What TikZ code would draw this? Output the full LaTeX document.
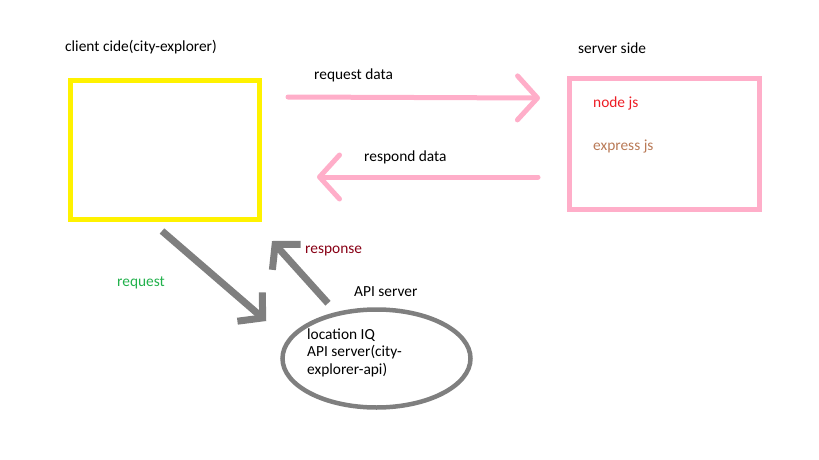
\documentclass[tikz,border=0pt]{standalone}
\usepackage{fontspec}
\setmainfont{Carlito}
\usepackage{xcolor}
\usepackage{tikz}
\usetikzlibrary{positioning,arrows.meta,shapes.geometric}

\definecolor{paintyellow}{RGB}{255,242,0}
\definecolor{paintpink}{RGB}{255,174,201}
\definecolor{paintgray}{RGB}{127,127,127}
\definecolor{paintgreen}{RGB}{34,177,76}
\definecolor{paintred}{RGB}{237,28,36}
\definecolor{paintbrown}{RGB}{185,122,87}
\definecolor{paintmaroon}{RGB}{136,0,21}

\begin{document}
\begin{tikzpicture}[
      x=1pt, y=-1pt,
      font=\fontsize{15.4}{17.5}\selectfont,
      lbl/.style={anchor=west, inner sep=0pt, align=left},
      clientbox/.style={
        draw=paintyellow, rectangle, line width=5pt,
        minimum width=189pt, minimum height=139pt,
      },
      serverbox/.style={
        draw=paintpink, rectangle, line width=5pt,
        minimum width=190pt, minimum height=131pt,
      },
      apibox/.style={
        draw=paintgray, ellipse, line width=4.5pt,
        minimum width=188pt, minimum height=98pt,
      },
      pinkarrow/.style={paintpink, line width=5pt, line cap=round,
        -{Straight Barb[length=20pt, width=44pt, round]}},
      grayarrow/.style={paintgray, line width=7pt,
        -{Straight Barb[length=17pt, width=38pt]}},
    ]
    \useasboundingbox (0,0) rectangle (819,460);

    % Client side
    \node[clientbox] (client) at (165,150) {};
    \node[lbl] (clientlbl) at (65,47) {client cide(city-explorer)};

    % Server side
    \node[serverbox] (server) at (664.5,144) {};
    \node[lbl] (serverlbl) at (578,48) {server side};
    \node[lbl, text=paintred] (nodejs) at (593,103) {node js};
    \node[lbl, text=paintbrown] (expressjs) at (593,147) {express js};

    % API server
    \node[apibox] (api) at (376.5,358.5) {};
    \node[lbl] (apilbl) at (354,292) {API server};
    \node[lbl] (apitext) at (307,352.5) {location IQ\\API server(city-\\explorer-api)};

    % Client <-> server
    \draw[pinkarrow] ([xshift=26pt,yshift=53pt]client.east)
      -- ([xshift=-27pt,yshift=46pt]server.west);
    \node[lbl] (reqdata) at (314,75) {request data};

    \draw[pinkarrow] ([xshift=-29pt,yshift=-33pt]server.west)
      -- ([xshift=55pt,yshift=-27pt]client.east);
    \node[lbl] (respdata) at (364,157) {respond data};

    % Client <-> API server
    \draw[grayarrow] ([xshift=-3pt,yshift=-9pt]client.south)
      -- ([xshift=-14pt,yshift=37.5pt]api.west);
    \node[lbl, text=paintgreen] (reqlbl) at (117,283) {request};

    \draw[grayarrow] ([xshift=-48.5pt,yshift=4pt]api.north)
      -- ([xshift=10pt,yshift=-19pt]client.south east);
    \node[lbl, text=paintmaroon] (resplbl) at (305,251) {response};

  \end{tikzpicture}
\end{document}
